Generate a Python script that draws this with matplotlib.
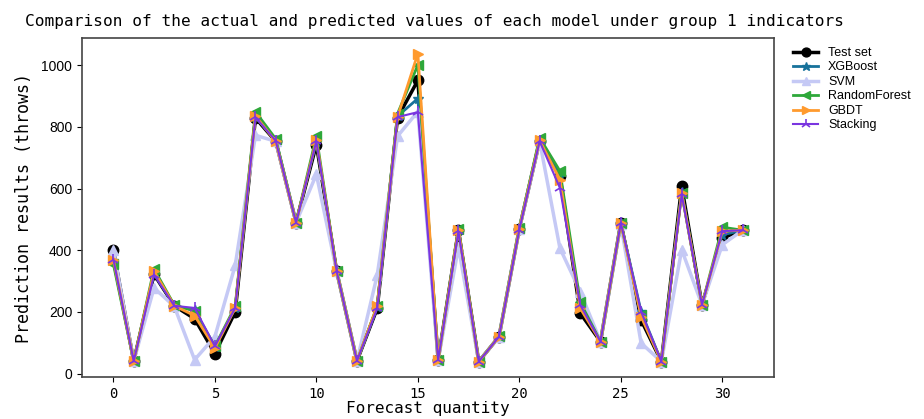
import matplotlib
matplotlib.use("Agg")
import matplotlib.pyplot as plt
import numpy as np

x = list(range(32))
test_set = [400, 40, 322, 220, 178, 65, 200, 829, 753, 490, 743, 332, 41, 212, 830, 951,
            44, 465, 39, 120, 470, 754, 640, 196, 104, 489, 174, 39, 608, 223, 440, 465]
xgboost = [365, 40, 325, 220, 205, 85, 213, 833, 755, 490, 752, 332, 41, 215, 835, 892,
           44, 466, 39, 120, 470, 755, 640, 220, 104, 489, 201, 39, 590, 223, 450, 465]
svm = [400, 40, 278, 218, 45, 120, 351, 773, 753, 490, 646, 332, 41, 320, 770, 850,
       44, 410, 39, 120, 470, 754, 407, 266, 104, 485, 99, 39, 402, 223, 418, 465]
random_forest = [355, 40, 340, 222, 204, 89, 218, 849, 761, 490, 770, 333, 41, 220, 843, 1001,
                 44, 470, 39, 121, 473, 765, 657, 232, 104, 489, 191, 39, 586, 223, 475, 465]
gbdt = [370, 40, 332, 220, 188, 83, 213, 835, 753, 489, 757, 332, 41, 220, 832, 1038,
        44, 467, 39, 120, 470, 756, 629, 212, 104, 489, 185, 39, 586, 223, 462, 465]
stacking = [370, 40, 321, 220, 213, 89, 213, 831, 755, 489, 754, 332, 41, 212, 832, 848,
            44, 461, 39, 120, 467, 754, 602, 223, 104, 489, 201, 39, 581, 223, 462, 465]

fig = plt.figure(figsize=(9.24, 4.19), dpi=100)
ax = fig.add_axes([0.0887, 0.1002, 0.749, 0.8088])

ax.plot(x, test_set, color='black', marker='o', lw=2.5, ms=7.5, label='Test set')
ax.plot(x, xgboost, color='#17729b', marker='*', lw=2, ms=7.5, label='XGBoost')
ax.plot(x, svm, color='#c5c9f5', marker='^', lw=2.5, ms=7.5, label='SVM')
ax.plot(x, random_forest, color='#2ea83a', marker='<', lw=2, ms=7.5, label='RandomForest')
ax.plot(x, gbdt, color='#ff9a2e', marker='>', lw=2, ms=7.5, label='GBDT')
ax.plot(x, stacking, color='#7a35e0', marker='2', lw=1.5, ms=8.5, mew=1.2, label='Stacking')

mono = 'DejaVu Sans Mono'
ax.set_title('Comparison of the actual and predicted values of each model under group 1 indicators',
             fontsize=11.6, family=mono, pad=9, x=0.51)
ax.set_xlabel('Forecast quantity', fontsize=11.5, family=mono, labelpad=0)
ax.set_ylabel('Prediction results (throws)', fontsize=12, family=mono, labelpad=6)

ax.set_xticks([0, 5, 10, 15, 20, 25, 30])
ax.set_yticks([0, 200, 400, 600, 800, 1000])
for lab in ax.get_xticklabels():
    lab.set_family(mono)
    lab.set_fontsize(10)
for lab in ax.get_yticklabels():
    lab.set_family('Liberation Sans')
    lab.set_fontsize(10)

for s in ax.spines.values():
    s.set_color('#444444')
    s.set_linewidth(1.2)

ax.legend(loc='upper left', bbox_to_anchor=(1.015, 1.0), frameon=False,
          prop={'family': 'Liberation Sans', 'size': 9}, handlelength=2.0,
          markerscale=0.85, labelspacing=0.2, borderaxespad=0.3)

fig.savefig('out.png', dpi=100)
